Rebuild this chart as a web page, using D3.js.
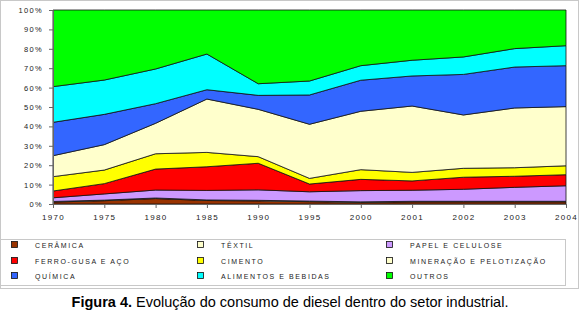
<!DOCTYPE html>
<html>
<head>
<meta charset="utf-8">
<script src="https://cdn.jsdelivr.net/npm/d3@7"></script>
<style>
  body { margin: 0; background: #fff; }
  svg { display: block; font-family: Arial, "Liberation Sans", sans-serif; }
</style>
</head>
<body>
<svg id="chart" width="580" height="311"></svg>
<script>
// categories (years) and shares (%) per sector, bottom to top of the stack
const years = ["1970", "1975", "1980", "1985", "1990", "1995", "2000", "2001", "2002", "2003", "2004"];

const ceramica   = [1.0, 1.7, 2.8, 1.8, 1.6, 1.2, 0.8, 1.1, 1.1, 1.1, 1.1];
const textil     = [0.3, 0.3, 0.3, 0.3, 0.3, 0.3, 0.3, 0.3, 0.3, 0.3, 0.3];
const papel      = [1.9, 3.2, 4.1, 4.9, 5.4, 4.8, 5.8, 5.7, 6.2, 7.2, 8.0];
const ferroGusa  = [3.5, 5.3, 10.8, 12.2, 13.7, 4.0, 5.8, 4.8, 6.2, 5.7, 5.7];
const cimento    = [7.4, 7.0, 7.9, 7.4, 3.4, 2.9, 5.0, 4.4, 4.6, 4.4, 4.6];
const mineracao  = [10.8, 13.1, 15.7, 27.5, 24.4, 27.9, 30.1, 34.2, 27.5, 30.8, 30.5];
const quimica    = [17.2, 15.6, 10.1, 4.8, 7.2, 15.1, 16.0, 15.5, 20.9, 21.1, 21.1];
const alimentos  = [18.4, 17.7, 17.9, 18.4, 6.0, 7.2, 7.5, 8.1, 9.0, 9.5, 10.3];
const outros     = [39.5, 36.1, 30.4, 22.7, 38.0, 36.6, 28.7, 25.9, 24.2, 19.9, 18.4];

const seriesNames = ["CERÂMICA", "TÊXTIL", "PAPEL E CELULOSE", "FERRO-GUSA E AÇO", "CIMENTO",
                     "MINERAÇÃO E PELOTIZAÇÃO", "QUÍMICA", "ALIMENTOS E BEBIDAS", "OUTROS"];
const seriesValues = [ceramica, textil, papel, ferroGusa, cimento, mineracao, quimica, alimentos, outros];
const colors = ["#993300", "#ffffcc", "#cc99ff", "#ff0000", "#ffff00", "#ffffcc", "#3366ff", "#00ffff", "#00ff00"];

const svg = d3.select("#chart");

// outer frame and legend box
svg.append("rect").attr("x", 0.5).attr("y", 0.5).attr("width", 578).attr("height", 288)
    .attr("fill", "none").attr("stroke", "#c8c8c8");
svg.append("rect").attr("x", 0.5).attr("y", 239.5).attr("width", 565).attr("height", 46)
    .attr("fill", "none").attr("stroke", "#c8c8c8");

// build rows for the stack
let rows = years.map(function (y, i) {
    let r = { year: y };
    seriesNames.forEach(function (n, k) { r[n] = seriesValues[k][i]; });
    return r;
});

let stack = d3.stack().keys(seriesNames).offset(d3.stackOffsetExpand);
let layers = stack(rows);

let x = d3.scalePoint().domain(years).range([53, 566]);
let y = d3.scaleLinear().domain([0, 1]).range([204, 10]);

let area = d3.area()
    .x(d => x(d.data.year))
    .y0(d => y(d[0]))
    .y1(d => y(d[1]));

svg.append("g").selectAll("path")
    .data(layers)
    .enter().append("path")
    .attr("d", area)
    .attr("fill", (d, i) => colors[i])
    .attr("stroke", "#111")
    .attr("stroke-width", 0.8)
    .attr("stroke-linejoin", "round");

// axes
let yAxis = d3.axisLeft(y)
    .tickValues(d3.range(0, 1.01, 0.1))
    .tickFormat(d3.format(".0%"))
    .tickSize(4)
    .tickPadding(6);

let gy = svg.append("g").attr("transform", "translate(53,0)").call(yAxis);

let xAxis = d3.axisBottom(x).tickSize(4).tickPadding(6);
let gx = svg.append("g").attr("transform", "translate(0,204)").call(xAxis);

[gy, gx].forEach(function (g) {
    g.select(".domain").attr("stroke", "#666");
    g.selectAll(".tick line").attr("stroke", "#666");
    g.selectAll(".tick text")
        .attr("fill", "#222")
        .style("font-size", "7.5px")
        .style("letter-spacing", "1.3px")
        .style("font-family", "Arial, 'Liberation Sans', sans-serif");
});
gx.selectAll(".tick text").style("font-size", "8px");

// legend, 3 columns
let colX = [11, 197, 386];
let rowY = [245, 261, 276];

let legend = svg.append("g").selectAll("g")
    .data(seriesNames)
    .enter().append("g")
    .attr("transform", (d, i) => "translate(" + colX[i % 3] + "," + rowY[Math.floor(i / 3)] + ")");

legend.append("rect")
    .attr("x", 0.5).attr("y", -3.5)
    .attr("width", 6).attr("height", 6)
    .attr("fill", (d, i) => colors[i])
    .attr("stroke", "#111")
    .attr("stroke-width", 0.8);

legend.append("text")
    .attr("x", 24)
    .attr("y", 2.5)
    .attr("fill", "#222")
    .style("font-size", "7px")
    .style("letter-spacing", "1.6px")
    .text(d => d);

// caption
let caption = svg.append("text")
    .attr("x", 290).attr("y", 307)
    .attr("text-anchor", "middle")
    .style("font-size", "14.5px")
    .attr("fill", "#000");
caption.append("tspan").style("font-weight", "bold").text("Figura 4.");
caption.append("tspan").text(" Evolução do consumo de diesel dentro do setor industrial.");
</script>
</body>
</html>
